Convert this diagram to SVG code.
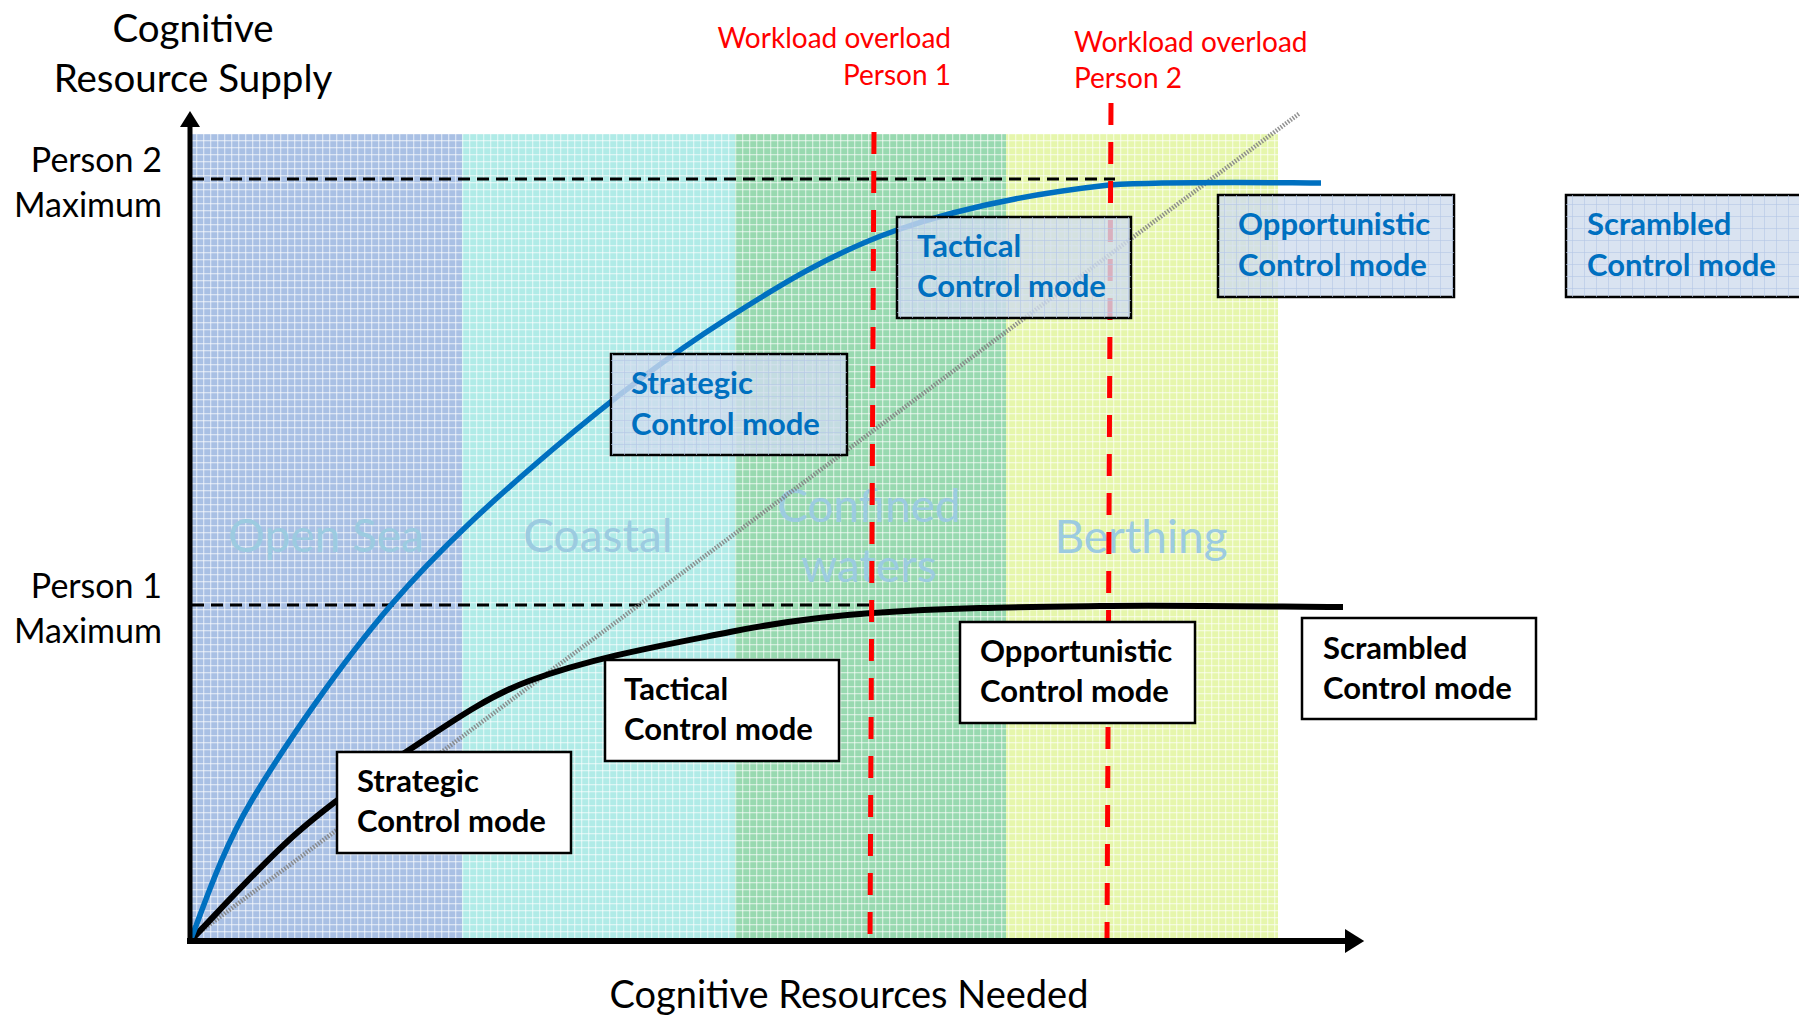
<svg xmlns="http://www.w3.org/2000/svg" width="1799" height="1020" viewBox="0 0 1799 1020">
<style>
.t{font-family:Lato,"Liberation Sans",sans-serif;fill:#000}
.title{font-size:38.5px}
.xl{font-size:38px}
.ax{font-size:34px}
.red{font-size:28px;fill:#ff0000}
.zone{font-size:46px;fill:#9ccbe0}
.bk{font-family:Lato,"Liberation Sans",sans-serif;font-size:31px;font-weight:bold;fill:#000}
.bl{font-family:Lato,"Liberation Sans",sans-serif;font-size:31px;font-weight:bold;fill:#0070c0}
.wbox{fill:#ffffff;stroke:#000;stroke-width:2.5}
.bbox{fill:#cfdcee;fill-opacity:0.8;stroke:#000;stroke-width:2.5}
.hd{fill:none;stroke:#000;stroke-width:3;stroke-dasharray:12 7}
.rd{fill:none;stroke:#ff0000;stroke-width:5;stroke-dasharray:22 17}
</style>
<defs>
<pattern id="grid" width="7" height="7" patternUnits="userSpaceOnUse">
<rect x="0" y="0" width="7" height="1.3" fill="#ffffff" fill-opacity="0.55"/>
<rect x="0" y="0" width="1.3" height="7" fill="#ffffff" fill-opacity="0.55"/>
</pattern>
<pattern id="bgrid" width="12" height="12" patternUnits="userSpaceOnUse">
<rect x="0" y="0" width="12" height="1" fill="#b4c7e6" fill-opacity="0.6"/>
<rect x="0" y="0" width="1" height="12" fill="#b4c7e6" fill-opacity="0.6"/>
</pattern>
<marker id="ah" markerWidth="4" markerHeight="4" refX="0" refY="2" orient="auto" markerUnits="strokeWidth">
<path d="M0,0 L3.2,2 L0,4 Z" fill="#000"/>
</marker>
</defs>
<rect width="1799" height="1020" fill="#ffffff"/>
<g id="bands">
<rect x="190" y="134" width="272" height="807" fill="#a9c0e4"/>
<rect x="462" y="134" width="273" height="807" fill="#b0ebe7"/>
<rect x="735" y="134" width="271" height="807" fill="#98d9b0"/>
<rect x="1006" y="134" width="272" height="807" fill="#e6f6ac"/>
<rect x="190" y="134" width="1088" height="807" fill="url(#grid)"/>
</g>
<g id="zones">
<text class="t zone" x="326" y="552" text-anchor="middle">Open Sea</text>
<text class="t zone" x="598" y="552" text-anchor="middle">Coastal</text>
<text class="t zone" x="869" y="522" text-anchor="middle">Confined</text>
<text class="t zone" x="869" y="582" text-anchor="middle">waters</text>
<text class="t zone" x="1141" y="553" text-anchor="middle">Berthing</text>
</g>
<g id="labels">
<text class="t title" x="193" y="42" text-anchor="middle">Cognitive</text>
<text class="t title" x="193" y="92" text-anchor="middle">Resource Supply</text>
<text class="t ax" x="162" y="172" text-anchor="end">Person 2</text>
<text class="t ax" x="162" y="217" text-anchor="end">Maximum</text>
<text class="t ax" x="162" y="598" text-anchor="end">Person 1</text>
<text class="t ax" x="162" y="643" text-anchor="end">Maximum</text>
<text class="t xl" x="849" y="1008" text-anchor="middle">Cognitive Resources Needed</text>
<text class="t red" x="951" y="48" text-anchor="end">Workload overload</text>
<text class="t red" x="951" y="85" text-anchor="end">Person 1</text>
<text class="t red" x="1074" y="52">Workload overload</text>
<text class="t red" x="1074" y="88">Person 2</text>
</g>
<g id="connectors">
<line class="hd" x1="192" y1="179" x2="1115" y2="179"/>
<line class="hd" x1="192" y1="605" x2="872" y2="605"/>
<line x1="193" y1="937" x2="1300" y2="113" stroke="#7f7f7f" stroke-width="4.5" stroke-dasharray="1.5 1.5" stroke-opacity="0.85"/>
<path d="M192,939 C209.7,921.2 261.8,863.5 298,832 C334.2,800.5 370.5,775.2 409,750 C447.5,724.8 486.1,696.8 529,681 C593.8,657.2 662.3,645.4 730,632 C776.8,622.7 824.4,616.3 872,613 C947.8,607.7 1021.5,607 1100,606 C1178.5,605 1302.5,607 1343,607" fill="none" stroke="#000" stroke-width="6"/>
<path d="M190,941 C200.3,917.5 218.5,856 252,800 C285.5,744 341,663.3 391,605 C441,546.7 496.3,497.5 552,450 C607.7,402.5 667.5,356.7 725,320 C782.5,283.3 833,252.5 897,230 C961,207.5 1038.3,192.8 1109,185 C1179.7,181 1286,183 1321,183" fill="none" stroke="#0070c0" stroke-width="5.5"/>
<line class="rd" x1="874" y1="132" x2="870" y2="940"/>
<line class="rd" x1="1111" y1="103" x2="1107" y2="940"/>
<line x1="190" y1="944" x2="190" y2="127" stroke="#000" stroke-width="5" marker-end="url(#ah)"/>
<line x1="187" y1="941" x2="1345" y2="941" stroke="#000" stroke-width="6" marker-end="url(#ah)"/>
</g>
<g id="strategic-p1">
<rect class="wbox" x="337" y="752" width="234" height="101"/>
<text class="bk" x="357" y="792">Strategic</text>
<text class="bk" x="357" y="832">Control mode</text>
</g>
<g id="tactical-p1">
<rect class="wbox" x="605" y="660" width="234" height="101"/>
<text class="bk" x="624" y="700">Tactical</text>
<text class="bk" x="624" y="740">Control mode</text>
</g>
<g id="opportunistic-p1">
<rect class="wbox" x="960" y="622" width="235" height="101"/>
<text class="bk" x="980" y="662">Opportunistic</text>
<text class="bk" x="980" y="702">Control mode</text>
</g>
<g id="scrambled-p1">
<rect class="wbox" x="1302" y="618" width="234" height="101"/>
<text class="bk" x="1323" y="659">Scrambled</text>
<text class="bk" x="1323" y="699">Control mode</text>
</g>
<g id="strategic-p2">
<rect class="bbox" x="611" y="354" width="236" height="101"/>
<rect x="611" y="354" width="236" height="101" fill="url(#bgrid)"/>
<text class="bl" x="631" y="394">Strategic</text>
<text class="bl" x="631" y="435">Control mode</text>
</g>
<g id="tactical-p2">
<rect class="bbox" x="897" y="217" width="234" height="101"/>
<rect x="897" y="217" width="234" height="101" fill="url(#bgrid)"/>
<text class="bl" x="917" y="257">Tactical</text>
<text class="bl" x="917" y="297">Control mode</text>
</g>
<g id="opportunistic-p2">
<rect class="bbox" x="1218" y="195" width="236" height="102"/>
<rect x="1218" y="195" width="236" height="102" fill="url(#bgrid)"/>
<text class="bl" x="1238" y="235">Opportunistic</text>
<text class="bl" x="1238" y="276">Control mode</text>
</g>
<g id="scrambled-p2">
<rect class="bbox" x="1566" y="195" width="236" height="102"/>
<rect x="1566" y="195" width="236" height="102" fill="url(#bgrid)"/>
<text class="bl" x="1587" y="235">Scrambled</text>
<text class="bl" x="1587" y="276">Control mode</text>
</g>
</svg>
